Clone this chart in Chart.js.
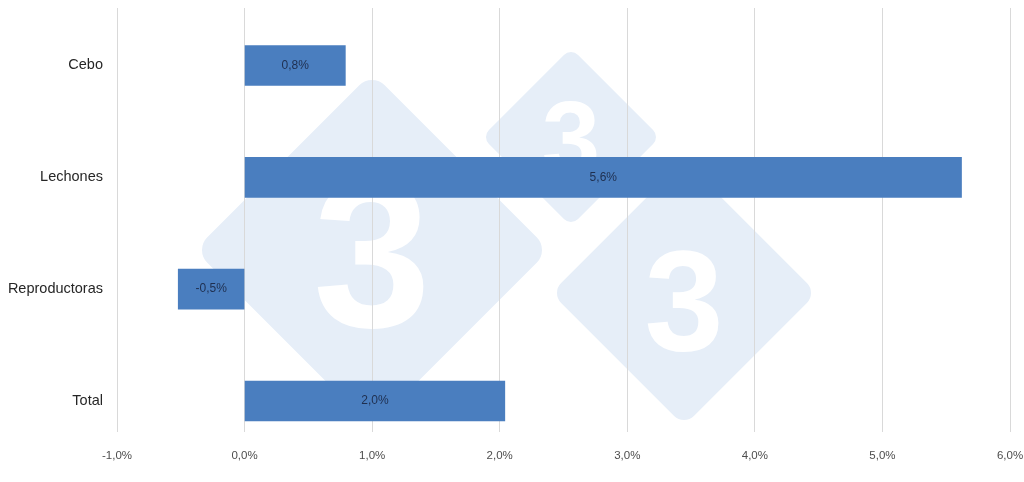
<!DOCTYPE html>
<html>
<head>
<meta charset="utf-8">
<script src="https://cdn.jsdelivr.net/npm/chart.js@4.4.1/dist/chart.umd.min.js"></script>
<style>
    html, body { margin: 0; padding: 0; background: #fff; }
    #wrap { width: 1024px; height: 482px; }
</style>
</head>
<body>
<div id="wrap"><canvas id="growthChart"></canvas></div>
<script>
const categories = ['Cebo', 'Lechones', 'Reproductoras', 'Total'];
const growthValues = [0.79, 5.62, -0.52, 2.04];
const xTicks = [-1, 0, 1, 2, 3, 4, 5, 6];

function pct(v) {
    return v.toFixed(1).replace('.', ',') + '%';
}

// marca de agua 333 (tres rombos con un "3")
const watermark = {
    id: 'watermark',
    beforeDraw: function(chart) {
        const ctx = chart.ctx;
        const marks = [
            { cx: 372, cy: 250, ext: 170, r: 18, size: 212, base: 327 },
            { cx: 571, cy: 137, ext: 85, r: 10, size: 105, base: 175 },
            { cx: 684, cy: 293, ext: 127, r: 14, size: 142, base: 350 }
        ];
        ctx.save();
        marks.forEach(function(m) {
            const half = (m.ext + m.r * (Math.SQRT2 - 1)) / Math.SQRT2;
            ctx.save();
            ctx.translate(m.cx, m.cy);
            ctx.rotate(Math.PI / 4);
            ctx.fillStyle = '#e6eef8';
            ctx.beginPath();
            ctx.roundRect(-half, -half, half * 2, half * 2, m.r);
            ctx.fill();
            ctx.restore();
            ctx.fillStyle = '#ffffff';
            ctx.font = 'bold ' + m.size + 'px "Liberation Sans", Arial, sans-serif';
            ctx.textAlign = 'center';
            ctx.textBaseline = 'alphabetic';
            ctx.fillText('3', m.cx, m.base);
        });
        ctx.restore();
    }
};

// etiquetas de valor en el centro de cada barra
const barLabels = {
    id: 'barLabels',
    afterDatasetsDraw: function(chart) {
        const ctx = chart.ctx;
        const meta = chart.getDatasetMeta(0);
        ctx.save();
        ctx.fillStyle = '#1f2f4f';
        ctx.font = '12px "Liberation Sans", Arial, sans-serif';
        ctx.textAlign = 'center';
        ctx.textBaseline = 'middle';
        meta.data.forEach(function(bar, i) {
            ctx.fillText(pct(growthValues[i]), (bar.x + bar.base) / 2, bar.y);
        });
        ctx.restore();
    }
};

const ctx = document.getElementById('growthChart').getContext('2d');
const growthChart = new Chart(ctx, {
    type: 'bar',
    data: {
        datasets: [{
            data: growthValues.map(function(v, i) { return { x: v, y: i }; }),
            backgroundColor: '#4a7ebf',
            borderWidth: 0,
            barThickness: 40
        }]
    },
    plugins: [watermark, barLabels],
    options: {
        indexAxis: 'y',
        responsive: true,
        maintainAspectRatio: false,
        animation: false,
        layout: {
            padding: { top: 8, right: 14, left: 0, bottom: 0 }
        },
        scales: {
            x: {
                type: 'linear',
                min: -1,
                max: 6,
                afterBuildTicks: function(scale) {
                    scale.ticks = xTicks.map(function(v) { return { value: v }; });
                },
                afterFit: function(scale) {
                    scale.height = 50;
                    scale.paddingLeft = 0;
                    scale.paddingRight = 0;
                },
                grid: {
                    color: '#d9d9d9',
                    drawTicks: false
                },
                border: { display: false },
                ticks: {
                    padding: 17,
                    color: '#4d4d4d',
                    font: { family: '"Liberation Sans", Arial, sans-serif', size: 11.5 },
                    callback: function(value) { return pct(value); }
                }
            },
            y: {
                type: 'linear',
                reverse: true,
                offset: false,
                min: -0.514,
                max: 3.277,
                afterBuildTicks: function(scale) {
                    scale.ticks = categories.map(function(c, i) { return { value: i }; });
                },
                afterFit: function(scale) {
                    scale.width = 117;
                    scale.paddingTop = 0;
                    scale.paddingBottom = 0;
                },
                grid: { display: false, drawTicks: false, offset: false },
                border: { display: false },
                ticks: {
                    padding: 14,
                    color: '#262626',
                    font: { family: '"Liberation Sans", Arial, sans-serif', size: 14.5 },
                    callback: function(value) { return categories[Math.round(value)]; }
                }
            }
        },
        plugins: {
            legend: { display: false },
            tooltip: { enabled: false }
        }
    }
});
</script>
</body>
</html>
